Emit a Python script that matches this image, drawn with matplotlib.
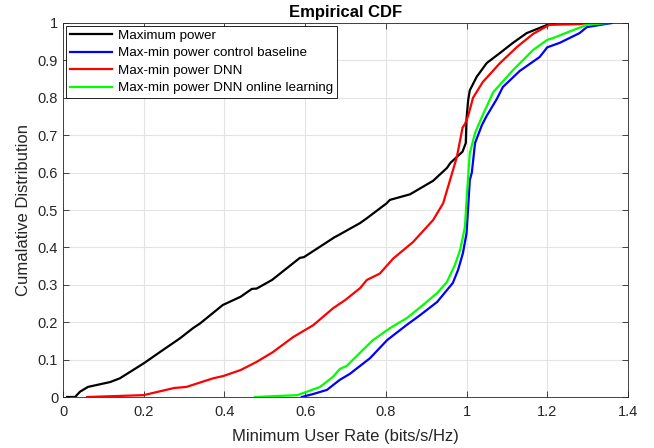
import numpy as np
import matplotlib
matplotlib.use("Agg")
import matplotlib.pyplot as plt
from matplotlib.ticker import FuncFormatter

# valores (x = tasa, y = CDF)
max_power_x = [0.01, 0.03, 0.042, 0.062, 0.117, 0.141, 0.2, 0.24, 0.29, 0.322, 0.34, 0.396, 0.44,
               0.468, 0.48, 0.518, 0.587, 0.597, 0.674, 0.678, 0.736, 0.753, 0.802, 0.81, 0.86,
               0.917, 0.951, 0.96, 0.99, 0.998, 1.0, 1.004, 1.008, 1.025, 1.05, 1.083, 1.115,
               1.149, 1.2, 1.22]
max_power_y = [0.0, 0.0, 0.014, 0.027, 0.04, 0.05, 0.09, 0.12, 0.157, 0.184, 0.197, 0.246, 0.268,
               0.289, 0.29, 0.313, 0.372, 0.374, 0.428, 0.43, 0.465, 0.478, 0.518, 0.527, 0.542,
               0.578, 0.612, 0.626, 0.656, 0.679, 0.745, 0.794, 0.82, 0.856, 0.893, 0.92, 0.947,
               0.973, 0.995, 1.0]

baseline_x = [0.592, 0.62, 0.654, 0.686, 0.711, 0.761, 0.803, 0.852, 0.885, 0.927, 0.966, 0.979,
              0.986, 0.991, 1.0, 1.008, 1.013, 1.021, 1.038, 1.05, 1.075, 1.09, 1.132, 1.181, 1.2,
              1.231, 1.28, 1.298, 1.36]
baseline_y = [0.0, 0.008, 0.019, 0.046, 0.062, 0.104, 0.152, 0.193, 0.219, 0.254, 0.305, 0.34,
              0.366, 0.385, 0.438, 0.58, 0.6, 0.679, 0.727, 0.752, 0.797, 0.829, 0.872, 0.909, 0.935,
              0.947, 0.973, 0.989, 1.0]

dnn_x = [0.06, 0.2, 0.275, 0.306, 0.372, 0.397, 0.44, 0.48, 0.52, 0.57, 0.62, 0.67, 0.699, 0.736,
         0.753, 0.785, 0.818, 0.867, 0.917, 0.942, 0.959, 0.976, 0.99, 0.996, 1.004, 1.016, 1.04,
         1.083, 1.125, 1.165, 1.205, 1.28, 1.3]
dnn_y = [0.0, 0.005, 0.024, 0.027, 0.05, 0.056, 0.072, 0.094, 0.12, 0.16, 0.192, 0.238, 0.259,
         0.291, 0.313, 0.33, 0.37, 0.414, 0.473, 0.518, 0.58, 0.642, 0.72, 0.73, 0.752, 0.8, 0.842,
         0.893, 0.936, 0.971, 0.995, 0.997, 1.0]

online_x = [0.476, 0.58, 0.604, 0.637, 0.669, 0.686, 0.703, 0.743, 0.768, 0.81, 0.852, 0.892,
            0.927, 0.951, 0.971, 0.984, 0.996, 1.0, 1.008, 1.021, 1.038, 1.066, 1.115, 1.165,
            1.2, 1.215, 1.264, 1.298, 1.35]
online_y = [0.0, 0.005, 0.014, 0.027, 0.054, 0.075, 0.083, 0.126, 0.152, 0.184, 0.211, 0.246,
            0.278, 0.307, 0.353, 0.393, 0.455, 0.527, 0.652, 0.706, 0.749, 0.815, 0.874, 0.928,
            0.955, 0.96, 0.981, 0.995, 1.0]

etiquetas = ["Maximum power", "Max-min power control baseline", "Max-min power DNN",
             "Max-min power DNN online learning"]

plt.rcParams['font.family'] = ['Liberation Sans', 'DejaVu Sans']
gris = (0.15, 0.15, 0.15)

fig = plt.figure(figsize=(6.54, 4.48), dpi=100)
ax = fig.add_axes([63/654, 51/448, 565/654, 374/448])

ax.plot(max_power_x, max_power_y, color="black", lw=1.6, label=etiquetas[0])
ax.plot(baseline_x, baseline_y, color="blue", lw=1.6, label=etiquetas[1])
ax.plot(dnn_x, dnn_y, color="red", lw=1.6, label=etiquetas[2])
ax.plot(online_x, online_y, color="#00ff00", lw=1.6, label=etiquetas[3])

ax.set_xlim(0, 1.4)
ax.set_ylim(0, 1)
ax.set_xticks(np.arange(0, 1.41, 0.2))
ax.set_yticks(np.arange(0, 1.01, 0.1))
fmt = FuncFormatter(lambda v, p: "%g" % round(v, 2))
ax.xaxis.set_major_formatter(fmt)
ax.yaxis.set_major_formatter(fmt)
ax.tick_params(direction="in", top=True, right=True, labelsize=10.5, colors=gris, length=4, width=0.6)
ax.tick_params(axis="x", pad=6)
for s in ax.spines.values():
    s.set_color(gris)
    s.set_linewidth(0.6)
ax.grid(True, color="#e3e3e3", lw=0.8)
ax.set_axisbelow(True)

ax.set_title("Empirical CDF", fontsize=12, fontweight="bold", pad=4)
ax.set_xlabel("Minimum User Rate (bits/s/Hz)", fontsize=12, color=gris, labelpad=7)
ax.set_ylabel("Cumalative Distribution", fontsize=12, color=gris, labelpad=5)

leg = ax.legend(loc="upper left", fontsize=9.6, fancybox=False, framealpha=1, edgecolor="black",
                borderpad=0.3, labelspacing=0.38, handlelength=3.2, handletextpad=0.45,
                borderaxespad=0.2)
leg.get_frame().set_linewidth(0.6)

fig.savefig("out.png", dpi=100)
